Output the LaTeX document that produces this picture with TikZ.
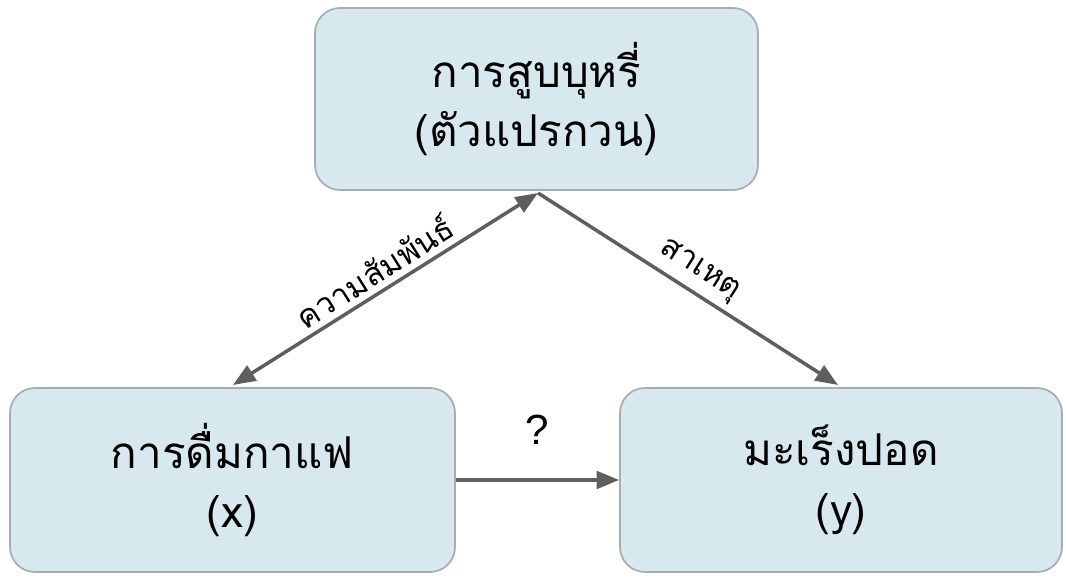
\documentclass[tikz,border=0pt]{standalone}
\usepackage{fontspec}
\newfontfamily\thaifont[Script=Thai]{Loma}
\setsansfont{Liberation Sans}
\usetikzlibrary{arrows.meta}
\definecolor{boxfill}{HTML}{D7E9EF}
\definecolor{boxline}{HTML}{A8ADB0}
\definecolor{arrowgray}{HTML}{5E5E5E}
\tikzset{
  factor/.style={rectangle, rounded corners=0.5cm, draw=boxline, line width=1pt, fill=boxfill, align=center, font=\thaifont\fontsize{25}{34}\selectfont},
  link/.style={draw=arrowgray, line width=2pt, -{Triangle[length=0.45cm,width=0.35cm]}},
  linklabel/.style={font=\thaifont\fontsize{18}{20}\selectfont, sloped, above}
}
\begin{document}
\begin{tikzpicture}
\useasboundingbox (0,0) rectangle (21.32,11.6);
\node (smoke) [factor, minimum width=8.86cm, minimum height=3.64cm] at (10.73,9.62) {การสูบบุหรี่\\(ตัวแปรกวน)};
\node (coffee) [factor, minimum width=8.9cm, minimum height=3.68cm] at (4.65,2.0) {การดื่มกาแฟ\\(x)};
\node (cancer) [factor, minimum width=8.84cm, minimum height=3.68cm] at (16.82,2.0) {มะเร็งปอด\\(y)};
\coordinate (apex) at (10.76,7.74);
\coordinate (coffeetop) at (4.66,3.9);
\coordinate (cancertop) at (16.76,3.9);
% arrows
\draw [link, {Triangle[length=0.45cm,width=0.35cm]}-{Triangle[length=0.45cm,width=0.35cm]}] (coffeetop) -- node [linklabel] {ความสัมพันธ์} (apex);
\draw [link] (apex) -- node [linklabel] {สาเหตุ} (cancertop);
\draw [link] (coffee.east |- 0,2.0) -- node [above=0.55cm, font=\sffamily\fontsize{24}{26}\selectfont] {?} (cancer.west);
\end{tikzpicture}
\end{document}
